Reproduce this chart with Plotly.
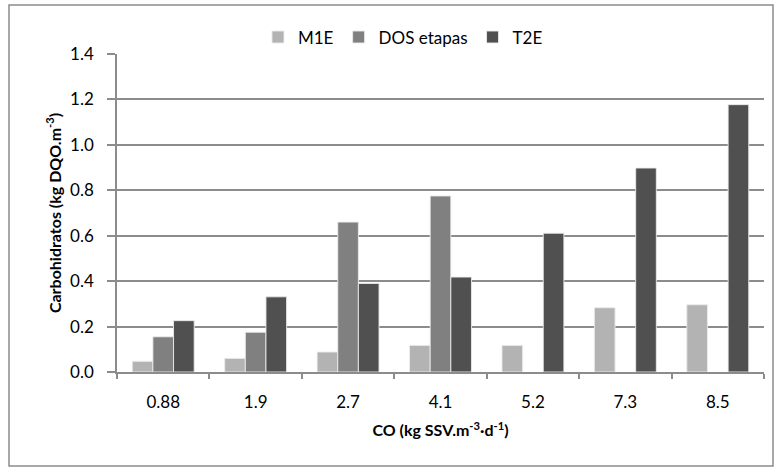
import plotly.graph_objects as go

# Organic loading rate categories (x axis)
categorias = ["0.88", "1.9", "2.7", "4.1", "5.2", "7.3", "8.5"]

# Carbohydrate concentration per configuration (kg DQO/m3)
m1e = [0.047, 0.060, 0.088, 0.117, 0.117, 0.283, 0.296]
dos_etapas = [0.155, 0.175, 0.660, 0.775, None, None, None]
t2e = [0.226, 0.331, 0.390, 0.418, 0.611, 0.898, 1.177]

series = [
    ("M1E", m1e, "#b3b3b3"),
    ("DOS etapas", dos_etapas, "#808080"),
    ("T2E", t2e, "#505050"),
]

FONT = "Lato, Carlito, Calibri, sans-serif"
GRID = "#8c8c8c"

fig = go.Figure()
for nombre, valores, color in series:
    fig.add_trace(go.Bar(
        x=categorias, y=valores, name=nombre,
        marker=dict(color=color, line=dict(color="rgba(235,235,235,0.9)", width=1)),
    ))

# plot area placement (pixels)
W, H = 779, 471
L, R, T, B = 117, 15, 54, 99
pw, ph = W - L - R, H - T - B

fig.update_layout(
    width=W, height=H,
    margin=dict(l=L, r=R, t=T, b=B, pad=0),
    paper_bgcolor="white", plot_bgcolor="white",
    barmode="group", bargap=0.33, bargroupgap=0,
    font=dict(family=FONT, size=17, color="#000000"),
    showlegend=True,
    legend=dict(
        orientation="h", x=0.442, y=1.052, xanchor="center", yanchor="middle",
        font=dict(family=FONT, size=17), itemwidth=30, tracegroupgap=0,
        bgcolor="rgba(0,0,0,0)",
    ),
    xaxis=dict(
        type="category", tickson="boundaries", ticks="outside", ticklen=5,
        tickcolor=GRID, tickwidth=1.5,
        showline=True, linecolor=GRID, linewidth=1.5,
        showgrid=False, zeroline=False,
        tickfont=dict(family=FONT, size=17), ticklabelstandoff=14,
        title=dict(text="<b>CO (kg SSV.m<sup>-3</sup>·d<sup>-1</sup>)</b>",
                   font=dict(family=FONT, size=16), standoff=14),
    ),
    yaxis=dict(
        range=[0, 1.4], dtick=0.2, tickformat=".1f",
        ticks="outside", ticklen=8, tickcolor=GRID, tickwidth=1.5,
        showline=True, linecolor=GRID, linewidth=1.5,
        showgrid=True, gridcolor=GRID, gridwidth=1.5,
        zeroline=False,
        tickfont=dict(family=FONT, size=17), ticklabelstandoff=10,
        title=dict(text="<b>Carbohidratos (kg DQO.m<sup>-3</sup>)</b>",
                   font=dict(family=FONT, size=16), standoff=5),
    ),
)

# chart border
x0 = (9 - L) / pw
x1 = (773 - L) / pw
y_top = (H - B - 5) / ph
y_bot = (H - B - 466) / ph
fig.add_shape(type="rect", xref="paper", yref="paper",
              x0=x0, x1=x1, y0=y_bot, y1=y_top,
              line=dict(color="#8c8c8c", width=1.5), layer="below")

fig.write_html("out.html")
